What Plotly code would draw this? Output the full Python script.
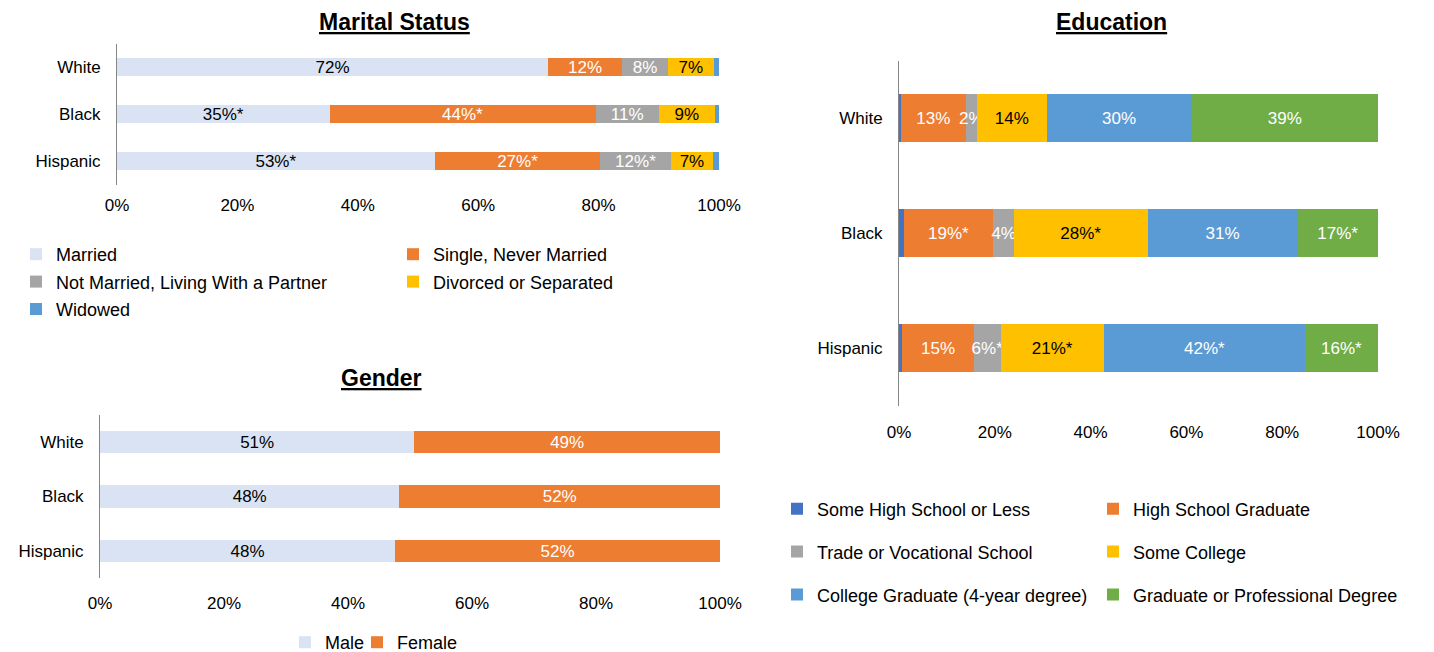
import plotly.graph_objects as go

W, H = 1434, 652
FONT = "Liberation Sans, Arial, sans-serif"

groups = ["White", "Black", "Hispanic"]
pct_ticks = [0, 20, 40, 60, 80, 100]
pct_labels = ["0%", "20%", "40%", "60%", "80%", "100%"]

# ---- Marital Status ----
marital_names = ["Married", "Single, Never Married", "Not Married, Living With a Partner",
                 "Divorced or Separated", "Widowed"]
married = [71.6, 35.3, 52.8]
single = [12.3, 44.2, 27.5]
partner = [7.6, 10.5, 11.7]
divorced = [7.6, 9.3, 7.0]
widowed = [0.9, 0.7, 1.0]
married_lbl = ["72%", "35%*", "53%*"]
single_lbl = ["12%", "44%*", "27%*"]
partner_lbl = ["8%", "11%", "12%*"]
divorced_lbl = ["7%", "9%", "7%"]
widowed_lbl = ["", "", ""]

# ---- Education ----
edu_names = ["Some High School or Less", "High School Graduate", "Trade or Vocational School",
             "Some College", "College Graduate (4-year degree)", "Graduate or Professional Degree"]
some_hs = [0.4, 1.0, 0.6]
hs_grad = [13.5, 18.7, 15.1]
trade = [2.4, 4.3, 5.5]
some_college = [14.5, 27.9, 21.6]
college_grad = [30.3, 31.3, 42.0]
grad_degree = [38.9, 16.8, 15.2]
some_hs_lbl = ["", "", ""]
hs_grad_lbl = ["13%", "19%*", "15%"]
trade_lbl = ["2%", "4%", "6%*"]
some_college_lbl = ["14%", "28%*", "21%*"]
college_grad_lbl = ["30%", "31%", "42%*"]
grad_degree_lbl = ["39%", "17%*", "16%*"]

# ---- Gender ----
gender_names = ["Male", "Female"]
male = [50.7, 48.3, 47.6]
female = [49.3, 51.7, 52.4]
male_lbl = ["51%", "48%", "48%"]
female_lbl = ["49%", "52%", "52%"]

C_LIGHT = "#DAE3F3"
C_ORANGE = "#ED7D31"
C_GRAY = "#A5A5A5"
C_YELLOW = "#FFC000"
C_BLUE = "#5B9BD5"
C_DKBLUE = "#4472C4"
C_GREEN = "#70AD47"

fig = go.Figure()


def add_bar(name, vals, labels, color, txtcolor, xa, ya, width, legend, group):
    fig.add_trace(go.Bar(
        name=name, y=groups, x=vals, orientation="h",
        text=labels, textposition="inside", insidetextanchor="middle",
        constraintext="none", textangle=0,
        textfont=dict(family=FONT, size=17, color=txtcolor),
        marker=dict(color=color, line=dict(width=0)),
        width=width, xaxis=xa, yaxis=ya, legend=legend, legendgroup=group,
        hoverinfo="skip",
    ))


# Marital (x, y)
wm = 0.4
add_bar(marital_names[0], married, married_lbl, C_LIGHT, "#000000", "x", "y", wm, "legend", "m1")
add_bar(marital_names[1], single, single_lbl, C_ORANGE, "#FFFFFF", "x", "y", wm, "legend2", "m2")
add_bar(marital_names[2], partner, partner_lbl, C_GRAY, "#FFFFFF", "x", "y", wm, "legend", "m3")
add_bar(marital_names[3], divorced, divorced_lbl, C_YELLOW, "#000000", "x", "y", wm, "legend2", "m4")
add_bar(marital_names[4], widowed, widowed_lbl, C_BLUE, "#FFFFFF", "x", "y", wm, "legend", "m5")

# Education (x2, y2)
we = 0.415
add_bar(edu_names[0], some_hs, some_hs_lbl, C_DKBLUE, "#FFFFFF", "x2", "y2", we, "legend3", "e1")
add_bar(edu_names[1], hs_grad, hs_grad_lbl, C_ORANGE, "#FFFFFF", "x2", "y2", we, "legend4", "e2")
add_bar(edu_names[2], trade, trade_lbl, C_GRAY, "#FFFFFF", "x2", "y2", we, "legend3", "e3")
add_bar(edu_names[3], some_college, some_college_lbl, C_YELLOW, "#000000", "x2", "y2", we, "legend4", "e4")
add_bar(edu_names[4], college_grad, college_grad_lbl, C_BLUE, "#FFFFFF", "x2", "y2", we, "legend3", "e5")
add_bar(edu_names[5], grad_degree, grad_degree_lbl, C_GREEN, "#FFFFFF", "x2", "y2", we, "legend4", "e6")

# Gender (x3, y3)
wg = 0.41
add_bar(gender_names[0], male, male_lbl, C_LIGHT, "#000000", "x3", "y3", wg, "legend5", "g1")
add_bar(gender_names[1], female, female_lbl, C_ORANGE, "#FFFFFF", "x3", "y3", wg, "legend6", "g2")


def px_x(p):
    return p / W


def px_y(p):
    return 1 - p / H


def xaxis(x0, x1, anchor, standoff):
    return dict(domain=[px_x(x0), px_x(x1)], range=[0, 100], anchor=anchor,
                tickvals=pct_ticks, ticktext=pct_labels, showgrid=False, zeroline=False,
                showline=False, ticks="", ticklabelstandoff=standoff, automargin=False,
                tickfont=dict(family=FONT, size=17, color="#000000"), fixedrange=True)


def yaxis(top, bottom, anchor, standoff):
    return dict(domain=[px_y(bottom), px_y(top)], range=[2.5, -0.5], anchor=anchor,
                type="category", showgrid=False, zeroline=False, showline=True,
                linecolor="#868686", linewidth=1, ticks="", ticklabelstandoff=standoff,
                automargin=False,
                tickfont=dict(family=FONT, size=17, color="#000000"), fixedrange=True)


# Marital: centers 67,114,161 -> spacing 47
m_top, m_bot = 67 - 23.5, 161 + 23.5
# Education: centers 118,233,348 -> spacing 115
e_top, e_bot = 118 - 57.5, 348 + 57.5
# Gender: centers 442,497,551
g_top, g_bot = 442 - 27.25, 551 + 27.25


def legend_cfg(x, ytop, orientation="v", gap=0):
    return dict(x=px_x(x), y=px_y(ytop), xanchor="left", yanchor="top",
                orientation=orientation, traceorder="grouped", tracegroupgap=gap,
                font=dict(family=FONT, size=18, color="#000000"),
                bgcolor="rgba(0,0,0,0)", borderwidth=0, itemclick=False, itemdoubleclick=False)


def title(text, x, y):
    return dict(text=f"<b><u>{text}</u></b>", x=px_x(x), y=px_y(y), xref="paper", yref="paper",
                showarrow=False, xanchor="center", yanchor="middle",
                font=dict(family=FONT, size=23, color="#000000"))


fig.update_layout(
    width=W, height=H,
    margin=dict(l=0, r=0, t=0, b=0, autoexpand=False),
    paper_bgcolor="white", plot_bgcolor="white",
    barmode="stack",
    showlegend=True,
    xaxis=xaxis(117, 719, "y", 8),
    yaxis=yaxis(m_top, m_bot, "x", 12),
    xaxis2=xaxis(899, 1378, "y2", 14),
    yaxis2=yaxis(e_top, e_bot, "x2", 12),
    xaxis3=xaxis(100, 720, "y3", 13),
    yaxis3=yaxis(g_top, g_bot, "x3", 12),
    legend=legend_cfg(16, 236, gap=1),
    legend2=legend_cfg(393, 236, gap=1),
    legend3=legend_cfg(777, 490.5, gap=16.5),
    legend4=legend_cfg(1093, 490.5, gap=16.5),
    legend5=legend_cfg(285, 624),
    legend6=legend_cfg(357, 624),
    annotations=[
        title("Marital Status", 394, 22),
        title("Education", 1111, 22),
        title("Gender", 382, 378),
    ],
)

fig.write_html("out.html", config={"displayModeBar": False},
               post_script="document.body.style.margin='0px';")
